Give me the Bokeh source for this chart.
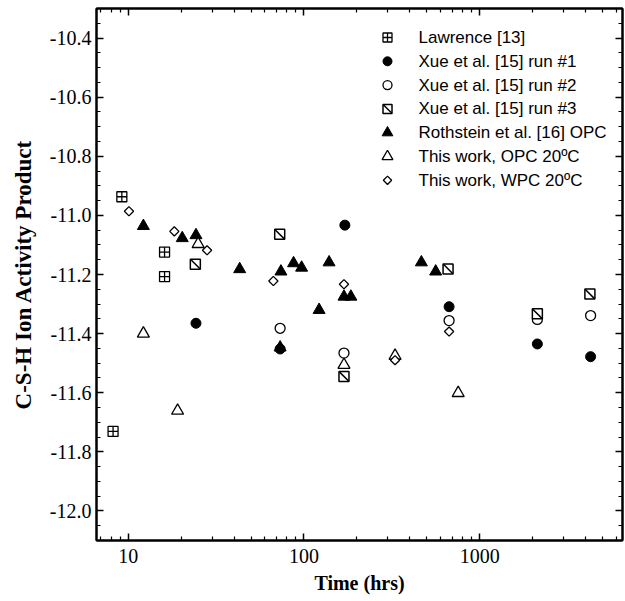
import numpy as np
from bokeh.plotting import figure
from bokeh.models import (Range1d, LinearAxis, LogAxis, SingleIntervalTicker, FixedTicker,
                          PrintfTickFormatter, LinearScale)
from bokeh.core.properties import value
from bokeh.embed import file_html
from bokeh.resources import INLINE

# ---- data (time in hours, C-S-H ion activity product) ----
lawrence_t = [8.2, 9.2, 16.1, 16.1]
lawrence_v = [-11.731, -10.937, -11.124, -11.207]

xue1_t = [24.3, 73.2, 171, 670, 2130, 4280]
xue1_v = [-11.365, -11.452, -11.033, -11.309, -11.435, -11.478]

xue2_t = [73.2, 169, 670, 2130, 4280]
xue2_v = [-11.382, -11.466, -11.356, -11.352, -11.339]

xue3_t = [24.1, 72.8, 169, 661, 2130, 4240]
xue3_v = [-11.165, -11.064, -11.545, -11.181, -11.333, -11.266]

roth_t = [12.2, 20.3, 24.3, 43.1, 73.2, 74, 87.3, 97, 122, 139, 169, 185, 466, 562]
roth_v = [-11.036, -11.077, -11.067, -11.182, -11.447, -11.19, -11.162, -11.177, -11.32,
          -11.159, -11.275, -11.275, -11.159, -11.19]

opc_t = [12.2, 19.1, 25.0, 169, 330, 755]
opc_v = [-11.40, -11.661, -11.097, -11.506, -11.475, -11.601]

wpc_t = [10.1, 18.3, 28.1, 67, 169, 330, 670]
wpc_v = [-10.986, -11.054, -11.118, -11.222, -11.233, -11.49, -11.393]

labels = ["Lawrence [13]", "Xue et al. [15] run #1", "Xue et al. [15] run #2",
          "Xue et al. [15] run #3", "Rothstein et al. [16] OPC",
          "This work, OPC 20\u00baC", "This work, WPC 20\u00baC"]

x_major = [10, 100, 1000]
x_minor = [m * 10 ** e for e in range(0, 4) for m in range(2, 10)]

FRAME_W, FRAME_H = 526, 532

p = figure(width=625, height=601, x_axis_type="log",
           x_range=Range1d(6.6, 6500), y_range=Range1d(-12.1, -10.3),
           output_backend="svg", toolbar_location=None,
           min_border_left=96, min_border_right=3, min_border_top=8, min_border_bottom=61,
           background_fill_color="white", border_fill_color="white")
p.xgrid.visible = False
p.ygrid.visible = False
p.outline_line_color = "black"
p.outline_line_width = 2
# pixel-like ranges (origin at frame top-left) used only to place the legend
p.extra_x_ranges = {"lx": Range1d(0, FRAME_W)}
p.extra_x_scales = {"lx": LinearScale()}
p.extra_y_ranges = {"ly": Range1d(FRAME_H, 0)}

serif = "Liberation Serif"

def style_axis(ax, show_labels):
    ax.axis_line_width = 2
    ax.axis_line_color = "black"
    ax.major_tick_in = 7
    ax.major_tick_out = 0
    ax.minor_tick_in = 4
    ax.minor_tick_out = 0
    ax.major_tick_line_width = 1.5
    ax.minor_tick_line_width = 1.2
    ax.major_tick_line_color = "black"
    ax.minor_tick_line_color = "black"
    if show_labels:
        ax.major_label_text_font = serif
        ax.major_label_text_font_size = "20px"
        ax.major_label_text_color = "black"
        ax.axis_label_text_font = serif
        ax.axis_label_text_font_size = "20px"
        ax.axis_label_text_font_style = "bold"
        ax.axis_label_text_color = "black"
    else:
        ax.major_label_text_font_size = "1px"
        ax.major_label_text_color = None
        ax.major_label_standoff = 0

xa = p.xaxis[0]
xa.ticker = FixedTicker(ticks=x_major, minor_ticks=x_minor)
xa.formatter = PrintfTickFormatter(format="%d")
xa.axis_label = "Time (hrs)"
style_axis(xa, True)
xa.major_label_standoff = 8
xa.axis_label_standoff = 6

ya = p.yaxis[0]
ya.ticker = SingleIntervalTicker(interval=0.2, num_minor_ticks=4)
ya.formatter = PrintfTickFormatter(format="%.1f")
ya.axis_label = "C-S-H Ion Activity Product"
style_axis(ya, True)
ya.axis_label_text_font_size = "23px"
ya.major_label_standoff = 5
ya.axis_label_standoff = 11

top = LogAxis(ticker=FixedTicker(ticks=x_major, minor_ticks=x_minor))
style_axis(top, False)
p.add_layout(top, "above")
right = LinearAxis(ticker=SingleIntervalTicker(interval=0.2, num_minor_ticks=4))
style_axis(right, False)
p.add_layout(right, "right")

# marker styles: (marker, size, fill, line_width, angle)
styles = [
    ("square_cross", 10, "white", 1.3, 0.0),
    ("circle", 10, "black", 1.0, 0.0),
    ("circle", 10, "white", 1.3, 0.0),
    ("square", 10, "white", 1.5, 0.0),
    ("triangle", 12, "black", 1.0, 0.0),
    ("triangle", 12, "white", 1.3, 0.0),
    ("square", 6.5, "white", 1.3, np.pi / 4),
]
series = [(lawrence_t, lawrence_v), (xue1_t, xue1_v), (xue2_t, xue2_v), (xue3_t, xue3_v),
          (roth_t, roth_v), (opc_t, opc_v), (wpc_t, wpc_v)]

DIAG = -np.pi / 4   # "\" diagonal inside the run #3 squares
for (t, v), (mk, sz, fc, lw, ang) in zip(series, styles):
    p.scatter(t, v, marker=mk, size=sz, angle=ang, fill_color=fc,
              line_color="black", line_width=lw)
    if mk == "square" and ang == 0.0:
        p.scatter(t, v, marker="dash", size=13, angle=DIAG,
                  line_color="black", line_width=1.5)

# ---- legend (drawn manually so rotated symbols keep their orientation) ----
LEG_X, LEG_TXT_X, LEG_Y0, LEG_DY = 291, 322, 29, 23.8
rows = list(range(len(labels)))
leg_y = [LEG_Y0 + LEG_DY * i for i in rows]
for i, (mk, sz, fc, lw, ang) in enumerate(styles):
    lsz = sz * 0.9
    p.scatter([LEG_X], [leg_y[i]], marker=mk, size=lsz, angle=ang, fill_color=fc,
              line_color="black", line_width=lw, x_range_name="lx", y_range_name="ly")
    if mk == "square" and ang == 0.0:
        p.scatter([LEG_X], [leg_y[i]], marker="dash", size=lsz * 1.3, angle=DIAG,
                  line_color="black", line_width=1.5, x_range_name="lx", y_range_name="ly")
p.text(x=[LEG_TXT_X] * len(labels), y=leg_y, text=labels,
       text_font=value("Liberation Sans"), text_font_size="17px", text_color="black",
       text_align="left", text_baseline="middle", x_range_name="lx", y_range_name="ly")

open("out.html", "w").write(file_html(p, INLINE))
